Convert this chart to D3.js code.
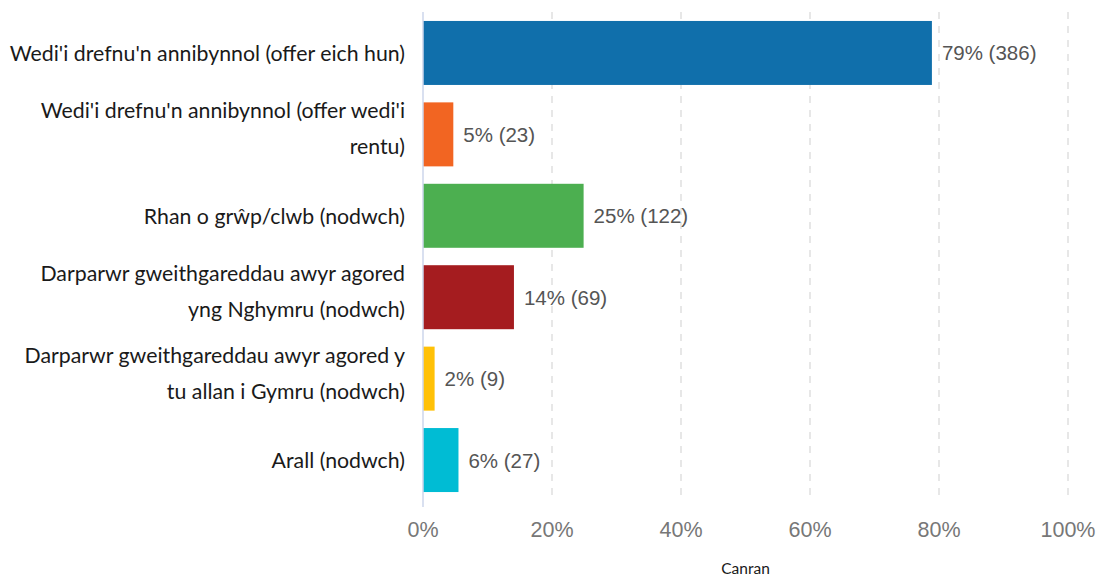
<!DOCTYPE html>
<html>
<head>
<meta charset="utf-8">
<script src="https://cdn.jsdelivr.net/npm/d3@7"></script>
<style>
  body { margin: 0; background: #fff; }
  svg { display: block; }
</style>
</head>
<body>
<svg id="chart" width="1097" height="576"></svg>
<script>
// Chart data
var categories = [
  ["Wedi'i drefnu'n annibynnol (offer eich hun)"],
  ["Wedi'i drefnu'n annibynnol (offer wedi'i", "rentu)"],
  ["Rhan o grŵp/clwb (nodwch)"],
  ["Darparwr gweithgareddau awyr agored", "yng Nghymru (nodwch)"],
  ["Darparwr gweithgareddau awyr agored y", "tu allan i Gymru (nodwch)"],
  ["Arall (nodwch)"]
];
var percents = [78.9, 4.7, 24.9, 14.1, 1.8, 5.5];
var counts = [386, 23, 122, 69, 9, 27];
var labels = ["79%", "5%", "25%", "14%", "2%", "6%"];
var colours = ["#106fab", "#f26522", "#4caf50", "#a51c1f", "#ffc107", "#00bcd4"];
var xTicks = [0, 20, 40, 60, 80, 100];

var svg = d3.select("svg#chart");

// Plot area
var plotLeft = 423, plotRight = 1068, plotTop = 12, plotBottom = 501;

var x = d3.scaleLinear().domain([0, 100]).range([plotLeft, plotRight]);
var y = d3.scaleBand()
  .domain(d3.range(categories.length))
  .range([plotTop, plotBottom])
  .paddingInner(0.214)
  .paddingOuter(0.11);

// Dashed grid lines
svg.selectAll("line.grid")
  .data(xTicks.slice(1))
  .enter().append("line")
  .attr("class", "grid")
  .attr("x1", d => x(d))
  .attr("x2", d => x(d))
  .attr("y1", plotTop)
  .attr("y2", 500)
  .attr("stroke", "#e0e0e0")
  .attr("stroke-width", 1.5)
  .attr("stroke-dasharray", "7,7");

// Bars
svg.selectAll("rect.bar")
  .data(percents)
  .enter().append("rect")
  .attr("class", "bar")
  .attr("x", x(0))
  .attr("y", (d, i) => y(i))
  .attr("width", d => x(d) - x(0))
  .attr("height", y.bandwidth())
  .attr("fill", (d, i) => colours[i]);

// Vertical axis line
svg.append("line")
  .attr("x1", x(0)).attr("x2", x(0))
  .attr("y1", plotTop).attr("y2", 507)
  .attr("stroke", "#ccd6eb")
  .attr("stroke-width", 1.5);

// Value labels
svg.selectAll("text.value")
  .data(percents)
  .enter().append("text")
  .attr("class", "value")
  .attr("x", d => x(d) + 10)
  .attr("y", (d, i) => y(i) + y.bandwidth() / 2)
  .attr("dominant-baseline", "central")
  .attr("font-family", "'Liberation Sans', Arial, sans-serif")
  .attr("font-size", 20.5)
  .attr("fill", "#555")
  .text((d, i) => labels[i] + " (" + counts[i] + ")");

// Category labels
var cat = svg.selectAll("text.cat")
  .data(categories)
  .enter().append("text")
  .attr("class", "cat")
  .attr("text-anchor", "end")
  .attr("font-family", "Lato, sans-serif")
  .attr("font-size", 21.3)
  .attr("fill", "#1a1a1a");

cat.each(function(lines, i) {
  var cy = y(i) + y.bandwidth() / 2;
  var start = lines.length === 1 ? cy : cy - 24;
  d3.select(this).selectAll("tspan")
    .data(lines)
    .enter().append("tspan")
    .attr("x", plotLeft - 18)
    .attr("y", (d, j) => start + j * 36)
    .attr("dominant-baseline", "central")
    .text(d => d);
});

// X tick labels
svg.selectAll("text.tick")
  .data(xTicks)
  .enter().append("text")
  .attr("class", "tick")
  .attr("x", d => x(d))
  .attr("y", 530)
  .attr("text-anchor", "middle")
  .attr("dominant-baseline", "central")
  .attr("font-family", "'Liberation Sans', Arial, sans-serif")
  .attr("font-size", 21.5)
  .attr("fill", "#777")
  .text(d => d + "%");

// Axis title
svg.append("text")
  .attr("x", (plotLeft + plotRight) / 2)
  .attr("y", 568)
  .attr("text-anchor", "middle")
  .attr("dominant-baseline", "central")
  .attr("font-family", "Lato, sans-serif")
  .attr("font-size", 15.5)
  .attr("fill", "#1a1a1a")
  .text("Canran");
</script>
</body>
</html>
